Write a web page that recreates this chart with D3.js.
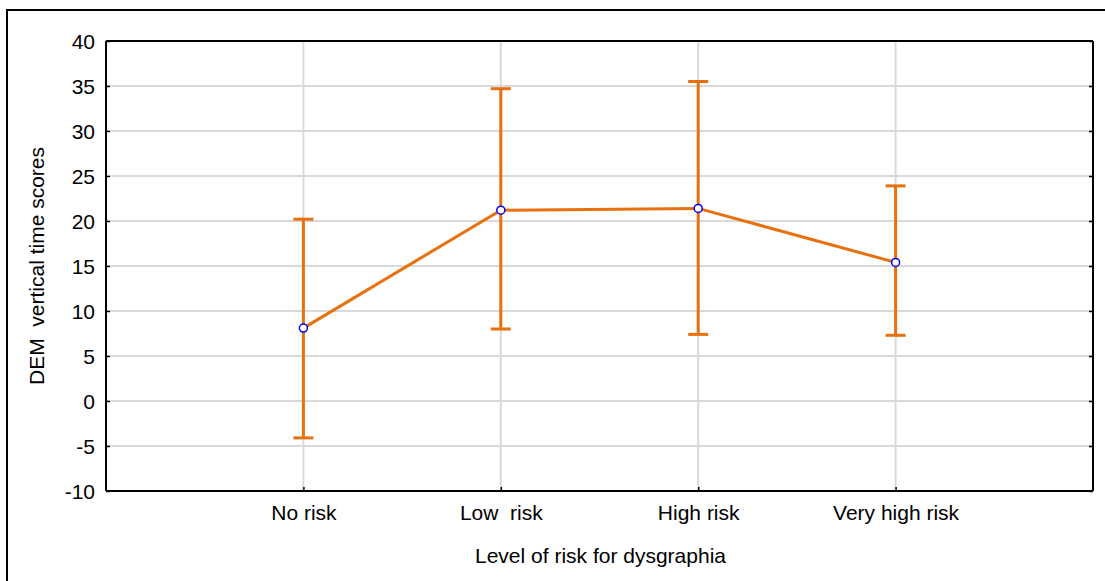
<!DOCTYPE html>
<html>
<head>
<meta charset="utf-8">
<script src="https://cdn.jsdelivr.net/npm/d3@7"></script>
<style>
  body { margin: 0; background: #fff; }
  text { font-family: "Liberation Sans", Arial, sans-serif; fill: #000; white-space: pre; }
</style>
</head>
<body>
<div id="chart"></div>
<script>
// data
var categories = ["No risk", "Low  risk", "High risk", "Very high risk"];
var means = [8.1, 21.2, 21.4, 15.4];
var upper = [20.2, 34.7, 35.5, 23.9];
var lower = [-4.1, 8.0, 7.4, 7.3];
var yTicks = [-10, -5, 0, 5, 10, 15, 20, 25, 30, 35, 40];

function main() {
    var width = 1105, height = 581;
    var margin = {left: 106, top: 41, right: 12, bottom: 90};
    var orange = "#e8700f";

    var svg = d3.select("#chart").append("svg")
                .attr("width", width).attr("height", height);

    // outer frame
    svg.append("rect").attr("x", 7).attr("y", 10)
        .attr("width", width).attr("height", height)
        .attr("fill", "none").attr("stroke", "#000").attr("stroke-width", 2);

    var x = d3.scalePoint().domain(categories)
              .range([margin.left, width - margin.right]).padding(1);
    var y = d3.scaleLinear().domain([-10, 40])
              .range([height - margin.bottom, margin.top]);

    var g = svg.append("g");

    // grid
    g.selectAll(".hgrid").data(yTicks.slice(1, -1)).enter().append("line")
        .attr("x1", margin.left).attr("x2", width - margin.right)
        .attr("y1", function(d){ return y(d); }).attr("y2", function(d){ return y(d); })
        .attr("stroke", "#d9d9d9").attr("stroke-width", 2);
    g.selectAll(".vgrid").data(categories).enter().append("line")
        .attr("x1", function(d){ return x(d); }).attr("x2", function(d){ return x(d); })
        .attr("y1", margin.top).attr("y2", height - margin.bottom)
        .attr("stroke", "#d9d9d9").attr("stroke-width", 2);

    // axes (ticks inside)
    var left = svg.append("g").attr("transform", "translate(" + margin.left + ",0)")
        .call(d3.axisLeft(y).tickValues(yTicks).tickSize(-4).tickPadding(11)
              .tickFormat(function(d){ return String(d); }));
    var right = svg.append("g").attr("transform", "translate(" + (width - margin.right) + ",0)")
        .call(d3.axisRight(y).tickValues(yTicks).tickSize(-4).tickFormat(""));
    var bottom = svg.append("g").attr("transform", "translate(0," + (height - margin.bottom) + ")")
        .call(d3.axisBottom(x).tickSize(-4).tickPadding(14));
    var top = svg.append("g").attr("transform", "translate(0," + margin.top + ")")
        .call(d3.axisTop(x).tickSize(0).tickFormat(""));

    [left, right, bottom, top].forEach(function(a) {
        a.select(".domain").attr("stroke", "#000").attr("stroke-width", 2);
        a.selectAll(".tick line").attr("stroke", "#000").attr("stroke-width", 1.5);
        a.selectAll("text").attr("font-size", 21).attr("fill", "#000")
            .style("font-family", "Liberation Sans, Arial, sans-serif")
            .style("white-space", "pre");
    });
    left.select(".domain").attr("d", "M0," + margin.top + "V" + (height - margin.bottom));
    right.select(".domain").attr("d", "M0," + margin.top + "V" + (height - margin.bottom));
    bottom.select(".domain").attr("d", "M" + margin.left + ",0H" + (width - margin.right));
    top.select(".domain").attr("d", "M" + margin.left + ",0H" + (width - margin.right));
    left.selectAll("text").attr("dy", "0.35em");
    bottom.selectAll("text").attr("dy", "0.71em");

    // error bars
    var bars = svg.append("g").selectAll("g").data(categories).enter().append("g");
    bars.append("line")
        .attr("x1", function(d){ return x(d); }).attr("x2", function(d){ return x(d); })
        .attr("y1", function(d, i){ return y(upper[i]); })
        .attr("y2", function(d, i){ return y(lower[i]); })
        .attr("stroke", orange).attr("stroke-width", 3);
    bars.append("line")
        .attr("x1", function(d){ return x(d) - 10; }).attr("x2", function(d){ return x(d) + 10; })
        .attr("y1", function(d, i){ return y(upper[i]); })
        .attr("y2", function(d, i){ return y(upper[i]); })
        .attr("stroke", orange).attr("stroke-width", 3);
    bars.append("line")
        .attr("x1", function(d){ return x(d) - 10; }).attr("x2", function(d){ return x(d) + 10; })
        .attr("y1", function(d, i){ return y(lower[i]); })
        .attr("y2", function(d, i){ return y(lower[i]); })
        .attr("stroke", orange).attr("stroke-width", 3);

    // mean line
    var line = d3.line()
        .x(function(d, i){ return x(categories[i]); })
        .y(function(d){ return y(d); });
    svg.append("path").datum(means).attr("d", line)
        .attr("fill", "none").attr("stroke", orange).attr("stroke-width", 3);

    svg.append("g").selectAll("circle").data(means).enter().append("circle")
        .attr("cx", function(d, i){ return x(categories[i]); })
        .attr("cy", function(d){ return y(d); })
        .attr("r", 4)
        .attr("fill", "#fff").attr("stroke", "#0000ff").attr("stroke-width", 1.5);

    // axis titles
    svg.append("text").attr("x", (margin.left + width - margin.right) / 2 + 1).attr("y", 563)
        .attr("text-anchor", "middle").attr("font-size", 21)
        .text("Level of risk for dysgraphia");
    svg.append("text")
        .attr("transform", "translate(44," + ((margin.top + height - margin.bottom) / 2) + ") rotate(-90)")
        .attr("text-anchor", "middle").attr("font-size", 21)
        .text("DEM  vertical time scores");
}
main();
</script>
</body>
</html>
